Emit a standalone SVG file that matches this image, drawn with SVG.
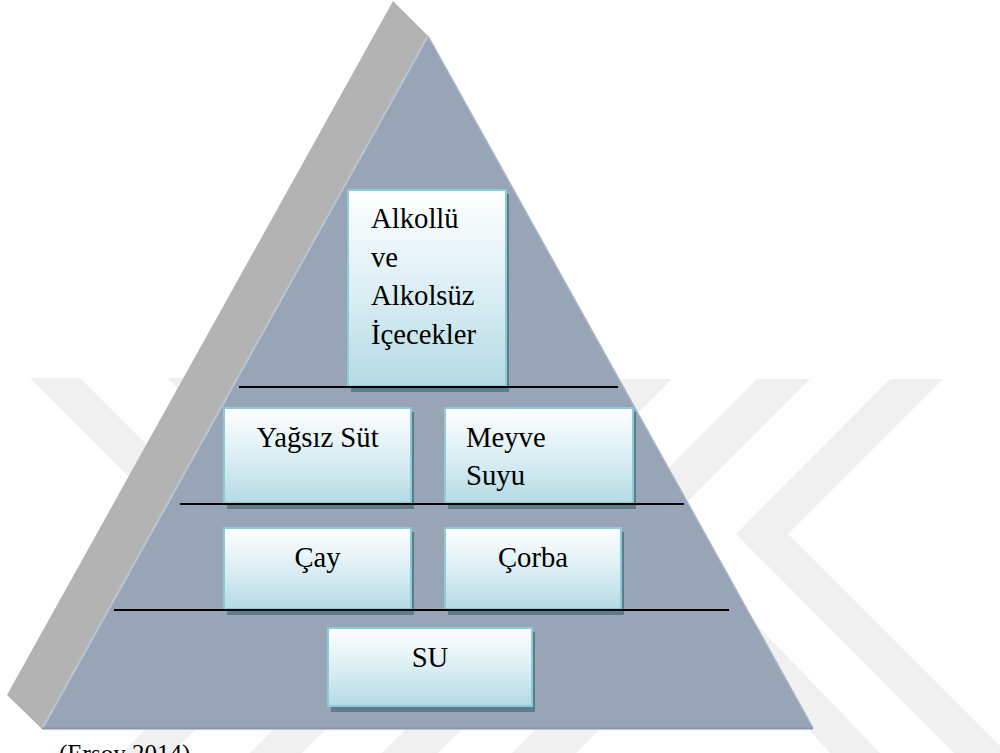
<svg xmlns="http://www.w3.org/2000/svg" width="1000" height="753" viewBox="0 0 1000 753">
  <defs>
    <linearGradient id="boxGrad" x1="0" y1="0" x2="0" y2="1">
      <stop offset="0" stop-color="#ffffff"/>
      <stop offset="0.5" stop-color="#dceff4"/>
      <stop offset="1" stop-color="#b5dae4"/>
    </linearGradient>
  </defs>
  <style>
    .wm { fill: #f0f0f0; }
    .side { fill: #b3b3b3; }
    .front { fill: #97a5b7; }
    .shadow { fill: #5e7c8b; }
    .box { fill: url(#boxGrad); stroke: #8ccbd9; stroke-width: 2; }
    .sep { stroke: #000000; stroke-width: 2; fill: none; }
    text { font-family: 'Liberation Serif', 'DejaVu Serif', serif; font-size: 28.7px; fill: #000000; }
    .c { text-anchor: middle; }
  </style>
  <rect x="0" y="0" width="1000" height="753" fill="#ffffff"/>

  <!-- faint background watermark -->
  <g id="watermark">
    <polygon class="wm" points="30,378 80,378 330,628 280,628"/>
    <polygon class="wm" points="167,378 220,378 470,628 417,628"/>
    <polygon class="wm" points="620,379 672,379 330,721 278,721"/>
    <polygon class="wm" points="757,379 810,379 600,589 547,589"/>
    <polygon class="wm" points="890,379 943,379 788,534 1007,753 954,753 736,534"/>
    <polygon class="wm" points="640,545 680,545 880,753 830,753"/>
    <polygon class="wm" points="150,725 200,725 172,753 122,753"/>
    <polygon class="wm" points="278,725 330,725 302,753 250,753"/>
    <polygon class="wm" points="410,725 466,725 438,753 382,753"/>
    <polygon class="wm" points="540,725 604,725 576,753 512,753"/>
  </g>

  <!-- pyramid -->
  <g id="pyramid">
    <polygon class="side" points="393,1 428,36 42,729 7,695"/>
    <polygon class="front" points="428,36 813,728 42,729"/>
    <line x1="428" y1="36" x2="42" y2="729" stroke="#b9c5d3" stroke-width="2"/>
    <line x1="428" y1="36" x2="813" y2="728" stroke="#a9b5c5" stroke-width="1.5"/>
    <line x1="42" y1="728.5" x2="813" y2="728.5" stroke="#8b96a6" stroke-width="2"/>
  </g>

  <!-- nodes -->
  <g id="node-alkollu">
    <rect class="shadow" x="351" y="194" width="158" height="198"/>
    <rect class="box" x="348" y="190" width="158" height="196"/>
    <text font-family="Liberation Serif, serif" x="371" y="228">Alkollü</text>
    <text font-family="Liberation Serif, serif" x="371" y="267">ve</text>
    <text font-family="Liberation Serif, serif" x="371" y="305">Alkolsüz</text>
    <text font-family="Liberation Serif, serif" x="371" y="344">İçecekler</text>
  </g>

  <g id="node-yagsiz-sut">
    <rect class="shadow" x="227" y="412" width="187" height="97"/>
    <rect class="box" x="224" y="408" width="187" height="95"/>
    <text class="c" font-family="Liberation Serif, serif" x="317.5" y="447">Yağsız Süt</text>
  </g>

  <g id="node-meyve-suyu">
    <rect class="shadow" x="448" y="412" width="188" height="97"/>
    <rect class="box" x="445" y="408" width="188" height="95"/>
    <text font-family="Liberation Serif, serif" x="466" y="447">Meyve</text>
    <text font-family="Liberation Serif, serif" x="466" y="485">Suyu</text>
  </g>

  <g id="node-cay">
    <rect class="shadow" x="227" y="532" width="187" height="83"/>
    <rect class="box" x="224" y="528" width="187" height="81"/>
    <text class="c" font-family="Liberation Serif, serif" x="317.5" y="567">Çay</text>
  </g>

  <g id="node-corba">
    <rect class="shadow" x="448" y="532" width="176" height="83"/>
    <rect class="box" x="445" y="528" width="176" height="81"/>
    <text class="c" font-family="Liberation Serif, serif" x="533" y="567">Çorba</text>
  </g>

  <g id="node-su">
    <rect class="shadow" x="331" y="632" width="204" height="80"/>
    <rect class="box" x="328" y="628" width="204" height="78"/>
    <text class="c" font-family="Liberation Serif, serif" x="430" y="667">SU</text>
  </g>

  <!-- level separators -->
  <g id="connectors">
    <line class="sep" x1="239" y1="387" x2="618" y2="387"/>
    <line class="sep" x1="180" y1="504" x2="684" y2="504"/>
    <line class="sep" x1="114" y1="610" x2="729" y2="610"/>
  </g>

  <g id="caption">
    <text font-family="Liberation Serif, serif" style="font-size:25px" x="59" y="762">(Ersoy 2014)</text>
  </g>
</svg>
